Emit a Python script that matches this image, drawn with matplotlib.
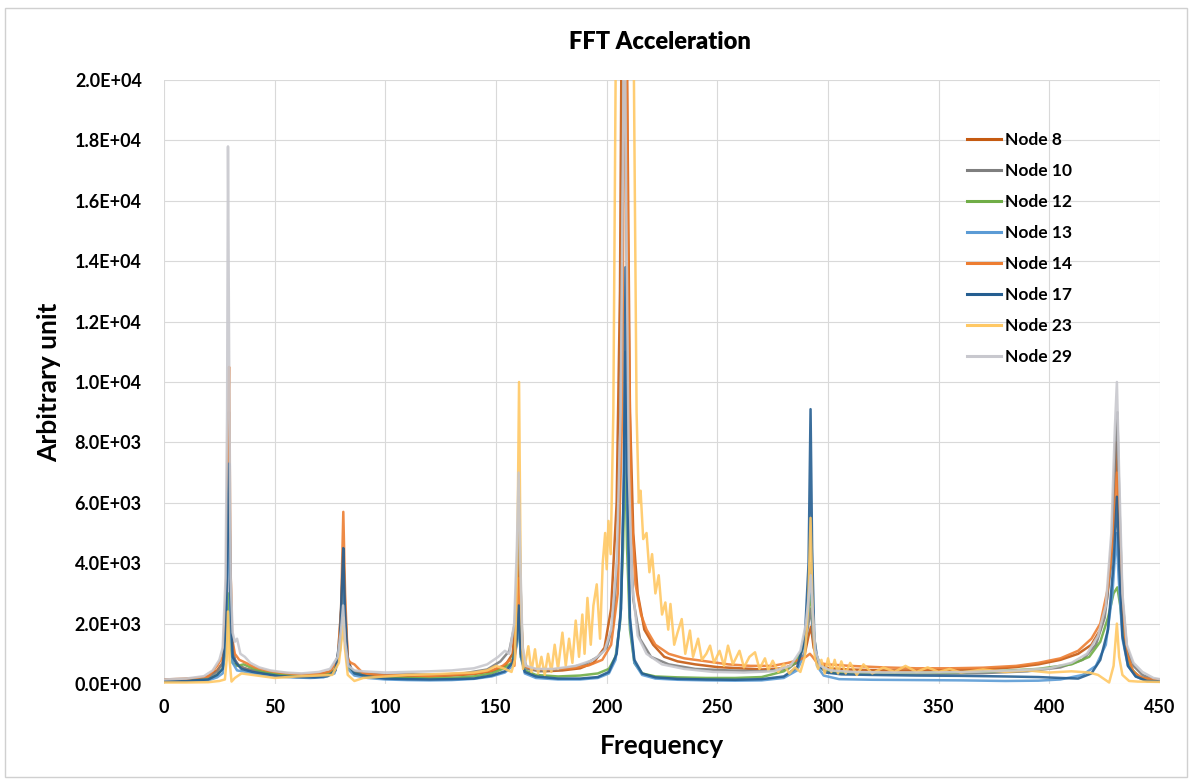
import matplotlib
matplotlib.use("Agg")
import matplotlib.pyplot as plt
from matplotlib.patches import Rectangle
from matplotlib.ticker import FuncFormatter, MultipleLocator
import numpy as np

plt.rcParams['font.family'] = ['Lato', 'DejaVu Sans']

# FFT spectra per node: (frequency, amplitude) pairs
node_8 = [(0, 150), (8, 170), (15, 190), (20, 260), (24, 450), (26.5, 700), (27.8, 1800), (28.5, 4500),
          (29, 8000), (29.5, 4200), (30.2, 1600), (31.5, 900), (33, 650), (36, 520), (40, 450), (45, 380),
          (50, 300), (55, 280), (60, 260), (66, 250), (72, 300), (77, 450), (79, 1100), (80.2, 2600),
          (81, 4200), (81.8, 2500), (83, 900), (84.5, 500), (87, 380), (92, 300), (100, 260), (110, 240),
          (120, 260), (130, 280), (140, 330), (148, 420), (154, 600), (157.5, 1000), (159.3, 2500),
          (160.3, 5000), (161.2, 2300), (162.5, 700), (165, 500), (172, 420), (180, 450), (188, 520),
          (194, 700), (199, 1200), (202, 2500), (204.5, 6000), (206, 13000), (207, 25000), (208, 30000),
          (209, 22000), (210.5, 9000), (212, 5000), (214, 3000), (217, 1800), (221, 1300), (226, 900),
          (232, 750), (240, 650), (250, 560), (260, 520), (270, 480), (280, 520), (286, 700), (289.5, 1000),
          (291.2, 1600), (292.3, 1900), (293.5, 1200), (296, 700), (300, 520), (310, 480), (325, 450),
          (340, 450), (355, 460), (370, 480), (385, 560), (395, 650), (405, 800), (413, 1000), (419, 1300),
          (423, 1800), (426, 2800), (428.5, 5000), (430, 8000), (431, 6500), (432.5, 3000), (434.5, 1300),
          (437, 500), (440, 250), (445, 150), (450, 140)]

node_10 = [(0, 120), (10, 150), (20, 220), (24, 400), (26.5, 700), (28, 2500), (28.8, 6000), (29.3, 9000),
           (29.8, 5000), (30.6, 1500), (32, 800), (34, 600), (38, 480), (43, 420), (50, 330), (57, 300),
           (64, 290), (70, 330), (75, 400), (78.5, 900), (80, 2400), (80.9, 4000), (81.6, 2300), (82.8, 800),
           (84.5, 450), (90, 350), (100, 300), (112, 320), (124, 300), (136, 360), (146, 480), (152, 750),
           (156, 1100), (158.5, 2000), (159.6, 4000), (160.3, 6200), (161, 3500), (162, 1000), (164, 500),
           (170, 420), (180, 500), (190, 650), (196, 900), (200, 1200), (203, 2000), (205.5, 5000),
           (207, 14000), (208, 23000), (208.8, 16000), (210, 6000), (212, 2800), (215, 1500), (220, 900),
           (228, 650), (240, 500), (255, 450), (270, 420), (282, 500), (287, 800), (290, 1500), (291.6, 2200),
           (292.3, 2500), (293.2, 1600), (295, 800), (299, 450), (310, 380), (330, 350), (350, 340),
           (370, 360), (390, 420), (405, 550), (415, 800), (421, 1300), (425, 2200), (428, 4000),
           (429.8, 7500), (430.7, 9000), (431.6, 6000), (433, 2800), (435, 1200), (438, 600), (442, 300),
           (447, 150), (450, 130)]

node_12 = [(0, 100), (10, 110), (20, 150), (24, 300), (26.5, 500), (28, 1200), (29, 3000), (29.8, 1500),
           (31, 700), (33, 600), (36, 650), (39, 550), (44, 420), (50, 330), (58, 300), (66, 280), (72, 300),
           (77, 420), (79.5, 1200), (80.8, 3000), (81.7, 1500), (83, 600), (86, 350), (92, 250), (100, 200),
           (110, 200), (120, 190), (130, 200), (140, 250), (148, 350), (153, 500), (157, 700), (159.3, 1300),
           (160.3, 2000), (161.2, 900), (163, 450), (168, 300), (178, 250), (188, 280), (196, 350), (201, 500),
           (204, 900), (206, 2000), (207.4, 4500), (208.3, 8000), (209.2, 4500), (210.5, 1800), (212.5, 700),
           (216, 350), (222, 250), (232, 220), (245, 200), (258, 200), (270, 230), (280, 420), (285, 700),
           (288, 1100), (290, 1800), (291.5, 2600), (292.2, 3100), (293, 2200), (294.5, 1000), (297, 550),
           (302, 380), (315, 350), (335, 360), (355, 380), (375, 420), (395, 500), (410, 650), (418, 900),
           (423, 1400), (426.5, 2200), (429, 3000), (430.7, 3200), (432, 2600), (434, 1200), (437, 500),
           (441, 200), (446, 120), (450, 110)]

node_13 = [(0, 80), (10, 90), (20, 120), (24, 220), (26.5, 350), (28, 1400), (28.9, 5000), (29.4, 5500),
           (30, 2000), (31, 700), (33, 450), (37, 400), (42, 330), (50, 250), (58, 220), (66, 200), (72, 220),
           (77, 350), (79.5, 1100), (80.8, 3600), (81.6, 1600), (83, 500), (86, 280), (92, 200), (100, 150),
           (110, 130), (120, 120), (130, 130), (140, 170), (148, 250), (154, 380), (157.5, 600), (159.4, 1300),
           (160.3, 2200), (161.2, 900), (163, 350), (168, 200), (178, 150), (188, 150), (196, 200), (201, 350),
           (204, 800), (206.2, 2200), (207.6, 6000), (208.4, 11000), (209.2, 6000), (210.5, 2000),
           (212.5, 700), (216, 300), (222, 180), (232, 140), (245, 120), (258, 110), (270, 120), (280, 200),
           (286, 450), (289.3, 1000), (291.2, 2500), (292.2, 4000), (293.2, 1800), (295, 600), (298, 280),
           (305, 160), (320, 140), (340, 130), (360, 120), (380, 100), (395, 110), (405, 150), (415, 300),
           (421, 600), (425.5, 1300), (428.5, 3000), (430.3, 5000), (431.3, 3500), (433, 1500), (435.5, 600),
           (439, 250), (444, 100), (450, 90)]

node_14 = [(0, 130), (10, 160), (20, 250), (24, 600), (26.5, 900), (28, 3000), (28.9, 8000), (29.4, 10500),
           (30, 4000), (30.8, 1500), (32, 1000), (34, 800), (37, 700), (41, 550), (46, 450), (52, 380),
           (58, 340), (64, 320), (70, 330), (75, 420), (78.5, 800), (80, 2500), (81, 5700), (81.8, 3000),
           (83, 800), (84.5, 700), (86, 650), (90, 350), (100, 280), (110, 300), (120, 260), (130, 310),
           (140, 350), (148, 450), (153, 600), (156.5, 800), (158.3, 600), (159.4, 1800), (160.3, 3500),
           (161.2, 1500), (162.5, 600), (166, 500), (174, 480), (184, 520), (192, 620), (198, 800),
           (202, 1300), (205, 3000), (207, 9000), (208, 22000), (208.8, 24000), (209.6, 14000), (211, 6000),
           (213, 3300), (215.5, 2300), (218, 1800), (222, 1300), (228, 1000), (235, 850), (245, 750),
           (255, 650), (265, 600), (275, 600), (282, 700), (287, 800), (290, 900), (291.8, 1000), (293, 900),
           (295, 700), (300, 650), (310, 600), (325, 550), (340, 520), (355, 520), (370, 540), (385, 600),
           (395, 700), (405, 850), (413, 1100), (419, 1500), (423, 2000), (426.5, 3200), (429, 5000),
           (430.5, 7000), (431.5, 5000), (433, 2500), (435, 1000), (438, 400), (442, 200), (447, 150),
           (450, 140)]

node_17 = [(0, 90), (10, 100), (20, 150), (24, 300), (26.5, 500), (28, 2000), (28.9, 6000), (29.4, 7300),
           (30, 3000), (31, 900), (32.5, 700), (35, 500), (40, 400), (46, 330), (52, 260), (60, 230),
           (68, 220), (74, 260), (77.5, 450), (79.5, 1500), (80.5, 3500), (81, 4500), (81.7, 2500), (83, 700),
           (86, 350), (92, 250), (100, 180), (110, 160), (120, 150), (130, 160), (140, 180), (148, 280),
           (154, 420), (157.5, 700), (159.4, 1500), (160.3, 2600), (161.2, 1000), (163, 400), (168, 250),
           (178, 180), (188, 180), (196, 230), (201, 400), (204.5, 1000), (206.5, 2500), (207.8, 7000),
           (208.5, 13800), (209.2, 7000), (210.5, 2200), (212.5, 800), (216, 350), (222, 220), (232, 170),
           (245, 150), (258, 140), (270, 160), (280, 250), (286, 550), (289.5, 1500), (291.2, 4000),
           (292.1, 9100), (292.8, 4500), (293.8, 1500), (295.5, 650), (299, 380), (306, 320), (320, 300),
           (340, 280), (360, 270), (380, 250), (395, 230), (405, 200), (413, 180), (419, 350), (423, 800),
           (426.5, 1800), (429, 4000), (430.5, 6200), (431.5, 4000), (433, 1600), (435.5, 600), (439, 250),
           (444, 100), (450, 90)]

node_23 = [(0, 50), (10, 50), (20, 60), (25, 100), (27.5, 150), (28.3, 800), (28.9, 2400), (29.6, 800),
           (30.5, 80), (32, 200), (35, 350), (40, 300), (45, 250), (50, 200), (60, 250), (70, 280), (76, 300),
           (79, 700), (80.3, 1500), (81, 2200), (81.7, 1200), (83, 300), (86, 100), (90, 200), (100, 250),
           (110, 300), (120, 320), (130, 350), (140, 380), (146, 450), (150, 600), (154, 500), (157, 400),
           (158.5, 800), (159.6, 4000), (160.4, 10000), (161.2, 3000), (162.2, 500), (163.5, 800),
           (164.6, 1250), (166, 400), (167.6, 1150), (169, 350), (170.5, 900), (172, 300), (173.5, 1000),
           (175, 400), (176.5, 1300), (178, 500), (180, 1700), (181.5, 600), (183, 1500), (184.5, 700),
           (186, 2100), (187.5, 900), (189, 2300), (190, 1000), (191.3, 2850), (192.8, 1300), (194, 2600),
           (195.5, 3300), (197, 1500), (198.2, 4000), (199.3, 5000), (200, 3800), (200.8, 5400),
           (201.8, 4300), (203, 9000), (204, 20000), (205, 30000), (207, 35000), (209, 40000), (211, 32000),
           (212.3, 20000), (213.5, 9000), (214.5, 6000), (215.3, 6400), (216.5, 4800), (218, 5000),
           (219.3, 3700), (220.5, 4300), (222, 3000), (223.5, 3600), (225, 2300), (226.5, 2700),
           (227.8, 1800), (228.8, 2650), (230.5, 1300), (232, 1700), (233.9, 2150), (235.5, 1000),
           (237.6, 1770), (239, 900), (241.3, 1500), (243, 800), (245, 1000), (246.7, 1270), (248.5, 700),
           (251, 1100), (253, 600), (254.8, 1270), (257, 650), (260, 1100), (262, 550), (264.5, 900),
           (267, 1050), (269, 500), (271.5, 850), (273, 450), (275, 770), (277.5, 400), (280, 650),
           (282.5, 350), (285, 550), (287.5, 400), (289.5, 900), (291, 2500), (292.1, 5500), (293, 2500),
           (294, 900), (295.5, 500), (297, 800), (298.5, 350), (300, 850), (301.5, 400), (303, 800),
           (304.5, 350), (306, 750), (308, 350), (310, 700), (313, 300), (316, 650), (320, 350), (325, 550),
           (330, 400), (335, 600), (340, 400), (345, 550), (350, 400), (355, 500), (360, 380), (370, 480),
           (380, 400), (390, 450), (400, 380), (410, 420), (418, 380), (422, 300), (425, 150), (427, 50),
           (429, 600), (430.5, 2000), (431.5, 900), (433, 300), (436, 100), (440, 80), (450, 70)]

node_29 = [(0, 150), (10, 180), (18, 260), (22, 450), (25, 800), (26.5, 1200), (27.8, 3500), (28.5, 9000),
           (28.9, 17800), (29.4, 11000), (30.1, 3500), (31, 1700), (32, 1400), (33, 1500), (34.5, 1000),
           (36.5, 900), (39, 700), (43, 550), (48, 450), (55, 380), (62, 350), (70, 400), (75, 500),
           (78.5, 900), (80, 1800), (80.9, 2600), (81.8, 1400), (83.3, 600), (86, 450), (90, 420), (100, 380),
           (110, 400), (120, 420), (130, 450), (140, 520), (146, 650), (151, 900), (154, 1100), (156, 1000),
           (158.2, 2000), (159.4, 4500), (160.2, 7000), (161, 4000), (162, 1200), (163.5, 600), (168, 500),
           (176, 500), (186, 600), (194, 800), (199, 1100), (202, 1800), (204.5, 4000), (206.3, 9000),
           (207.3, 17000), (208, 24000), (208.8, 16000), (210, 7000), (211.5, 3300), (214, 1600), (218, 1000),
           (225, 650), (235, 500), (248, 400), (262, 380), (275, 420), (283, 600), (287.5, 1100), (290, 2000),
           (291.4, 3000), (292.2, 3600), (293, 2500), (294.3, 1100), (296.5, 600), (301, 450), (310, 400),
           (325, 380), (345, 380), (365, 400), (385, 450), (400, 520), (410, 700), (417, 1000), (422, 1600),
           (425.5, 2600), (428, 5000), (429.6, 8500), (430.5, 10000), (431.5, 7000), (433, 3000), (435, 1300),
           (438, 700), (442, 400), (447, 200), (450, 160)]

labels = ['Node 8', 'Node 10', 'Node 12', 'Node 13', 'Node 14', 'Node 17', 'Node 23', 'Node 29']
series = [node_8, node_10, node_12, node_13, node_14, node_17, node_23, node_29]
colors = ['#C55A11', '#7F7F7F', '#70AD47', '#5B9BD5', '#ED7D31', '#255E91', '#FFC864', '#C8C8CE']

fig = plt.figure(figsize=(11.92, 7.81), dpi=100)
fig.patch.set_facecolor('white')
ax = fig.add_axes([0.1376, 0.1242, 0.8356, 0.7734])

for pts, lab, col in zip(series, labels, colors):
    arr = np.array(pts, dtype=float)
    ax.plot(arr[:, 0], arr[:, 1], color=col, lw=1.8, alpha=0.9, label=lab,
            solid_joinstyle='round')

ax.set_xlim(0, 450)
ax.set_ylim(0, 20000)
ax.xaxis.set_major_locator(MultipleLocator(50))
ax.yaxis.set_major_locator(MultipleLocator(2000))
ax.yaxis.set_major_formatter(FuncFormatter(lambda v, p: f'{v:.1E}'))
ax.grid(True, color='#D9D9D9', lw=0.8)
ax.set_axisbelow(True)
for s in ax.spines.values():
    s.set_visible(False)
ax.tick_params(length=0, labelsize=13)
ax.tick_params(axis='y', pad=16)
ax.tick_params(axis='x', pad=11)
for t in ax.get_xticklabels() + ax.get_yticklabels():
    t.set_fontweight('bold')

ax.set_xlabel('Frequency', fontsize=19, fontweight='bold', labelpad=13)
ax.set_ylabel('Arbitrary unit', fontsize=19, fontweight='bold', labelpad=10)
fig.text(0.554, 0.946, 'FFT Acceleration', ha='center', va='center',
         fontsize=17, fontweight='heavy')

leg = ax.legend(loc='upper left', bbox_to_anchor=(0.797, 0.928), frameon=False,
                handlelength=2.0, handletextpad=0.2, labelspacing=0.86,
                borderpad=0, prop={'weight': 'bold', 'size': 12.5})
for h in leg.get_lines():
    h.set_linewidth(2.2)
    h.set_alpha(1)

# thin frame round the whole chart
fig.patches.append(Rectangle((0.004, 0.005), 0.992, 0.985, transform=fig.transFigure,
                             fill=False, edgecolor='#D0D0D0', lw=1))

fig.savefig('out.png', dpi=100, facecolor='white')
